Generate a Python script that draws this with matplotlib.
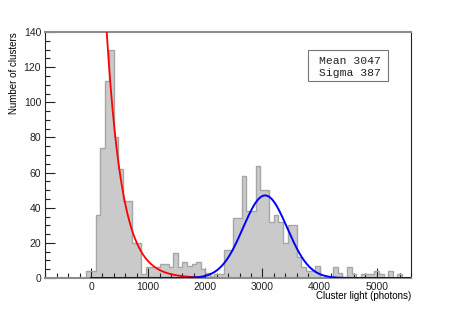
import numpy as np
import matplotlib
matplotlib.use("Agg")
import matplotlib.pyplot as plt
from matplotlib.ticker import MultipleLocator
from matplotlib.patches import Rectangle

# ---- data ----
bin_low = -800
bin_width = 80
# counts for 80 bins starting at -800 (bin k covers [-800+80k, -720+80k))
counts = [0, 0, 0, 0, 0, 0, 0, 0, 0, 4,
          4, 36, 74, 112, 130, 80, 62, 44, 44, 20,
          20, 2, 6, 6, 6, 8, 8, 6, 14, 6,
          9, 7, 8, 9, 5, 3, 1, 2, 2, 16,
          16, 34, 34, 58, 38, 38, 64, 50, 50, 32,
          36, 32, 20, 30, 30, 12, 6, 4, 4, 7,
          0, 0, 0, 6, 3, 0, 6, 2, 0, 2,
          2, 2, 4, 2, 0, 4, 0, 2, 0, 0]
# exponential fit (red): exp(p0 + p1*x)
expo_p0 = np.log(388.0)
expo_p1 = -1.0 / 270.0
expo_range = (250, 2000)
# gaussian fit (blue)
gaus_const = 47.0
gaus_mean = 3047
gaus_sigma = 387
gaus_range = (0, 5600)
stats_labels = ["Mean", "Sigma"]
stats_values = [3047, 387]
xlabel = "Cluster light (photons)"
ylabel = "Number of clusters"

edges = bin_low + bin_width * np.arange(len(counts) + 1)

W, H = 457, 310
fig = plt.figure(figsize=(W / 100, H / 100), dpi=100)
ax = fig.add_axes([45.3 / W, 1 - 278 / H, (411 - 45.3) / W, (278 - 32) / H])

ax.stairs(counts, edges, fill=True, color="#cacaca", zorder=1)
ax.stairs(counts, edges, fill=False, color="#a6a6a6", linewidth=1.0, zorder=2)

xr = np.linspace(*expo_range, 600)
ax.plot(xr, np.exp(expo_p0 + expo_p1 * xr), color="#ff0000", lw=1.3, zorder=4)
xb = np.linspace(*gaus_range, 1000)
ax.plot(xb, gaus_const * np.exp(-0.5 * ((xb - gaus_mean) / gaus_sigma) ** 2),
        color="#0000ff", lw=1.4, zorder=5)

ax.set_xlim(edges[0], edges[-1])
ax.set_ylim(0, 140)

font = ["Liberation Sans", "DejaVu Sans"]
ax.xaxis.set_major_locator(MultipleLocator(1000))
ax.xaxis.set_minor_locator(MultipleLocator(200))
ax.yaxis.set_major_locator(MultipleLocator(20))
ax.yaxis.set_minor_locator(MultipleLocator(5))
ax.tick_params(which="both", direction="in", top=False, right=False, colors="#222222")
ax.tick_params(which="major", length=7, width=0.8, labelsize=7.5, pad=3)
ax.tick_params(which="minor", length=3.5, width=0.8)
for lab in ax.get_xticklabels() + ax.get_yticklabels():
    lab.set_fontfamily(font)

for s in ["left", "right"]:
    ax.spines[s].set_color("#222222")
    ax.spines[s].set_linewidth(0.8)
for s in ["top", "bottom"]:
    ax.spines[s].set_color("#8c8c8c")
    ax.spines[s].set_linewidth(1.5)

fig.text(411 / W, 1 - 296 / H, xlabel, ha="right", va="center", fontsize=7,
         family=font)
fig.text(14 / W, 1 - 32 / H, ylabel, ha="center", va="top", rotation=90,
         fontsize=7, family=font)

# stats box
fig.add_artist(Rectangle((308 / W, 1 - 81 / H), 80 / W, 31 / H,
                         transform=fig.transFigure, facecolor="white",
                         edgecolor="#777777", linewidth=0.8, zorder=10))
mono = ["Liberation Mono", "DejaVu Sans Mono"]
for i, (l, v) in enumerate(zip(stats_labels, stats_values)):
    fig.text(319 / W, 1 - (61.5 + 12 * i) / H, f"{l} {v}", ha="left",
             va="center", fontsize=8.2, family=mono, color="#222222", zorder=11)

fig.savefig("out.png", dpi=100)
